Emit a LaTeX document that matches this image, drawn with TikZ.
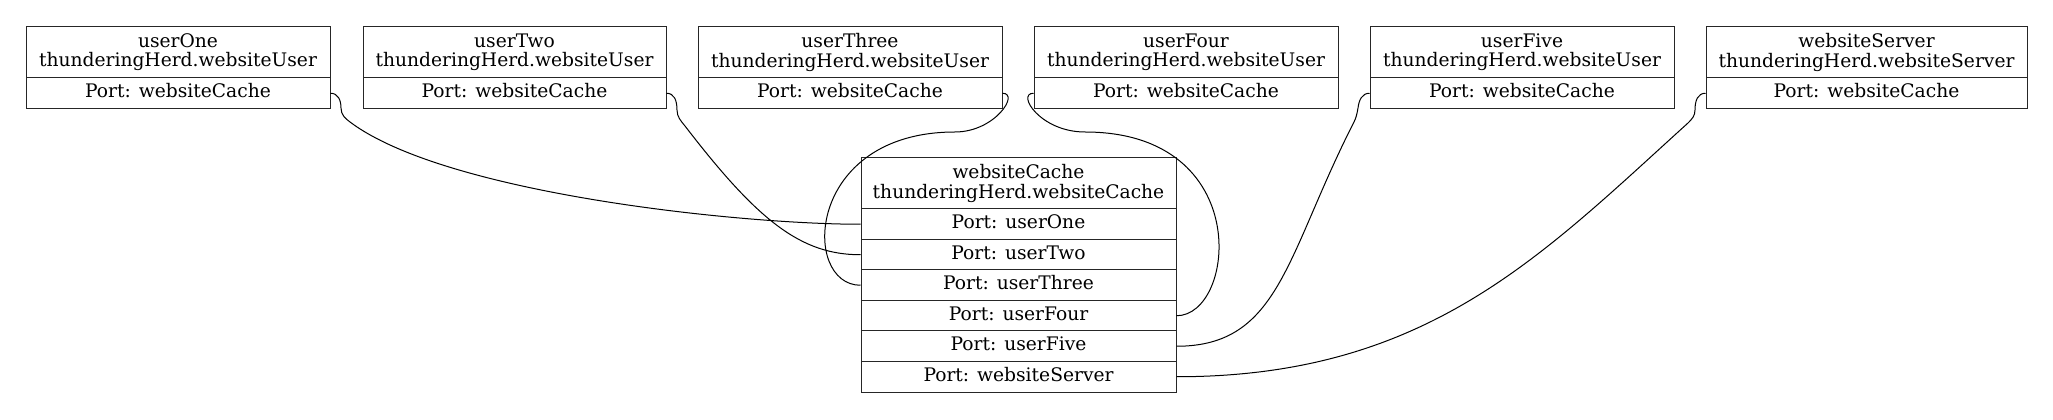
\documentclass[tikz,border=0pt]{standalone}
\usepackage{fontspec}
\setmainfont{DejaVu Serif}
\usepackage{tikz}
\usetikzlibrary{positioning}

\begin{document}
\begin{tikzpicture}
[x=0.75pt,y=-0.75pt,
 every node/.style={draw=black!85,rectangle,inner sep=0pt,line width=0.75pt,
   font=\fontsize{14}{14.4}\selectfont},
 head/.style={align=center,minimum height=38.25pt},
 port/.style={minimum height=22.875pt,text height=10pt,text depth=3.6pt}]
   \useasboundingbox (0,0) rectangle (2053,420);
   % the users and the server
   \node[head,minimum width=228pt] (userOne) at (178,52.5) {userOne\\thunderingHerd.websiteUser};
   \node[port,minimum width=228pt] (userOne_p) at (178,93.25) {Port: websiteCache};
   \node[head,minimum width=227.25pt] (userTwo) at (514.5,52.5) {userTwo\\thunderingHerd.websiteUser};
   \node[port,minimum width=227.25pt] (userTwo_p) at (514.5,93.25) {Port: websiteCache};
   \node[head,minimum width=228pt] (userThree) at (850,52.5) {userThree\\thunderingHerd.websiteUser};
   \node[port,minimum width=228pt] (userThree_p) at (850,93.25) {Port: websiteCache};
   \node[head,minimum width=228pt] (userFour) at (1186,52.5) {userFour\\thunderingHerd.websiteUser};
   \node[port,minimum width=228pt] (userFour_p) at (1186,93.25) {Port: websiteCache};
   \node[head,minimum width=228pt] (userFive) at (1522,52.5) {userFive\\thunderingHerd.websiteUser};
   \node[port,minimum width=228pt] (userFive_p) at (1522,93.25) {Port: websiteCache};
   \node[head,minimum width=240.75pt] (websiteServer) at (1866.5,52.5) {websiteServer\\thunderingHerd.websiteServer};
   \node[port,minimum width=240.75pt] (websiteServer_p) at (1866.5,93.25) {Port: websiteCache};
   % the cache
   \node[head,minimum width=236.25pt] (cache) at (1018.5,183.5) {websiteCache\\thunderingHerd.websiteCache};
   \node[port,minimum width=236.25pt] (cache_1) at (1018.5,224.25) {Port: userOne};
   \node[port,minimum width=236.25pt] (cache_2) at (1018.5,254.75) {Port: userTwo};
   \node[port,minimum width=236.25pt] (cache_3) at (1018.5,285.25) {Port: userThree};
   \node[port,minimum width=236.25pt] (cache_4) at (1018.5,315.75) {Port: userFour};
   \node[port,minimum width=236.25pt] (cache_5) at (1018.5,346.25) {Port: userFive};
   \node[port,minimum width=236.25pt] (cache_6) at (1018.5,376.75) {Port: websiteServer};
    \path[-,draw,line width=0.75pt]
    (userOne_p.east) .. controls (338,93.25) and (341,100) .. (341,108)
      .. controls (341,115) and (345.5,118.6) .. (350,122)
      .. controls (446,194) and (741,224.25) .. (cache_1.west)
    (userTwo_p.east) .. controls (674,93.25) and (677,100) .. (677,110)
      .. controls (677,117) and (681,121) .. (685,126)
      .. controls (758,221) and (801,254.75) .. (cache_2.west)
    (userThree_p.east) .. controls (1020,93.25) and (995,132) .. (955,132)
      .. controls (805,132) and (801,285.25) .. (cache_3.west)
    (userFour_p.west) .. controls (1016,93.25) and (1040,132) .. (1085,132)
      .. controls (1255,132) and (1236,315.75) .. (cache_4.east)
    (userFive_p.west) .. controls (1362,93.25) and (1359,100) .. (1358,108)
      .. controls (1357,114) and (1356,118) .. (1354,122)
      .. controls (1286,255) and (1280,346.25) .. (cache_5.east)
    (websiteServer_p.west) .. controls (1698,93.25) and (1695,100) .. (1695,110)
      .. controls (1695,116) and (1692,119) .. (1688,123)
      .. controls (1540,257) and (1426,376.75) .. (cache_6.east);

\end{tikzpicture}
\end{document}
